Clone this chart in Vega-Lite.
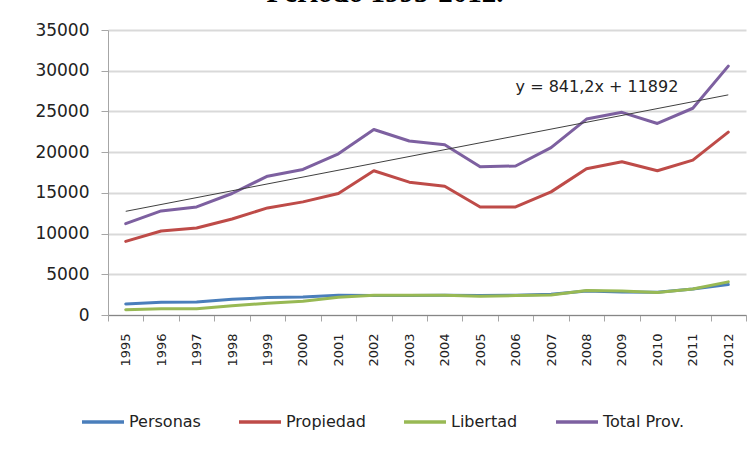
{
  "$schema": "https://vega.github.io/schema/vega-lite/v6.json",
  "width": 638,
  "height": 285,
  "autosize": {"type": "none"},
  "padding": {"left": 108, "top": 30, "right": 9, "bottom": 135},
  "background": "white",
  "title": {
    "text": "Período 1995-2012.",
    "font": "Liberation Serif",
    "fontSize": 29,
    "fontWeight": "bold",
    "color": "#000000",
    "anchor": "middle",
    "frame": "group",
    "dx": -42,
    "dy": 14,
    "offset": 4,
    "baseline": "alphabetic"
  },
  "config": {
    "view": {"stroke": null},
    "axis": {"labelFont": "DejaVu Sans", "labelColor": "#222222"}
  },
  "datasets": {
    "series": [
      {"year": "1995", "serie": "Personas", "value": 1356},
      {"year": "1996", "serie": "Personas", "value": 1560},
      {"year": "1997", "serie": "Personas", "value": 1600},
      {"year": "1998", "serie": "Personas", "value": 1930},
      {"year": "1999", "serie": "Personas", "value": 2140},
      {"year": "2000", "serie": "Personas", "value": 2220},
      {"year": "2001", "serie": "Personas", "value": 2420},
      {"year": "2002", "serie": "Personas", "value": 2380},
      {"year": "2003", "serie": "Personas", "value": 2380},
      {"year": "2004", "serie": "Personas", "value": 2420},
      {"year": "2005", "serie": "Personas", "value": 2380},
      {"year": "2006", "serie": "Personas", "value": 2420},
      {"year": "2007", "serie": "Personas", "value": 2550},
      {"year": "2008", "serie": "Personas", "value": 2960},
      {"year": "2009", "serie": "Personas", "value": 2830},
      {"year": "2010", "serie": "Personas", "value": 2790},
      {"year": "2011", "serie": "Personas", "value": 3200},
      {"year": "2012", "serie": "Personas", "value": 3740},
      {"year": "1995", "serie": "Propiedad", "value": 9040},
      {"year": "1996", "serie": "Propiedad", "value": 10310},
      {"year": "1997", "serie": "Propiedad", "value": 10680},
      {"year": "1998", "serie": "Propiedad", "value": 11790},
      {"year": "1999", "serie": "Propiedad", "value": 13150},
      {"year": "2000", "serie": "Propiedad", "value": 13890},
      {"year": "2001", "serie": "Propiedad", "value": 14920},
      {"year": "2002", "serie": "Propiedad", "value": 17710},
      {"year": "2003", "serie": "Propiedad", "value": 16310},
      {"year": "2004", "serie": "Propiedad", "value": 15820},
      {"year": "2005", "serie": "Propiedad", "value": 13270},
      {"year": "2006", "serie": "Propiedad", "value": 13270},
      {"year": "2007", "serie": "Propiedad", "value": 15120},
      {"year": "2008", "serie": "Propiedad", "value": 17950},
      {"year": "2009", "serie": "Propiedad", "value": 18820},
      {"year": "2010", "serie": "Propiedad", "value": 17710},
      {"year": "2011", "serie": "Propiedad", "value": 19020},
      {"year": "2012", "serie": "Propiedad", "value": 22450},
      {"year": "1995", "serie": "Libertad", "value": 657},
      {"year": "1996", "serie": "Libertad", "value": 780},
      {"year": "1997", "serie": "Libertad", "value": 780},
      {"year": "1998", "serie": "Libertad", "value": 1150},
      {"year": "1999", "serie": "Libertad", "value": 1440},
      {"year": "2000", "serie": "Libertad", "value": 1680},
      {"year": "2001", "serie": "Libertad", "value": 2180},
      {"year": "2002", "serie": "Libertad", "value": 2420},
      {"year": "2003", "serie": "Libertad", "value": 2420},
      {"year": "2004", "serie": "Libertad", "value": 2420},
      {"year": "2005", "serie": "Libertad", "value": 2300},
      {"year": "2006", "serie": "Libertad", "value": 2380},
      {"year": "2007", "serie": "Libertad", "value": 2470},
      {"year": "2008", "serie": "Libertad", "value": 3000},
      {"year": "2009", "serie": "Libertad", "value": 2960},
      {"year": "2010", "serie": "Libertad", "value": 2750},
      {"year": "2011", "serie": "Libertad", "value": 3200},
      {"year": "2012", "serie": "Libertad", "value": 4070},
      {"year": "1995", "serie": "Total Prov.", "value": 11220},
      {"year": "1996", "serie": "Total Prov.", "value": 12780},
      {"year": "1997", "serie": "Total Prov.", "value": 13270},
      {"year": "1998", "serie": "Total Prov.", "value": 14920},
      {"year": "1999", "serie": "Total Prov.", "value": 17050},
      {"year": "2000", "serie": "Total Prov.", "value": 17870},
      {"year": "2001", "serie": "Total Prov.", "value": 19800},
      {"year": "2002", "serie": "Total Prov.", "value": 22780},
      {"year": "2003", "serie": "Total Prov.", "value": 21370},
      {"year": "2004", "serie": "Total Prov.", "value": 20910},
      {"year": "2005", "serie": "Total Prov.", "value": 18200},
      {"year": "2006", "serie": "Total Prov.", "value": 18300},
      {"year": "2007", "serie": "Total Prov.", "value": 20550},
      {"year": "2008", "serie": "Total Prov.", "value": 24060},
      {"year": "2009", "serie": "Total Prov.", "value": 24890},
      {"year": "2010", "serie": "Total Prov.", "value": 23520},
      {"year": "2011", "serie": "Total Prov.", "value": 25390},
      {"year": "2012", "serie": "Total Prov.", "value": 30560}
    ],
    "trend": [
      {"year": "1995", "trend": 12733},
      {"year": "2012", "trend": 27034}
    ],
    "label": [
      {"year": "2006", "value": 28000, "text": "y = 841,2x + 11892"}
    ]
  },
  "layer": [
    {
      "data": {"name": "series"},
      "mark": {"type": "line", "strokeWidth": 3, "strokeJoin": "round", "strokeCap": "round"},
      "encoding": {
        "x": {
          "field": "year",
          "type": "ordinal",
          "bandPosition": 0.5,
          "scale": {"type": "band", "paddingInner": 0, "paddingOuter": 0},
          "axis": {
            "title": null,
            "labelAngle": 270,
            "labelAlign": "right",
            "labelBaseline": "middle",
            "labelFontSize": 13,
            "labelPadding": 12,
            "tickBand": "extent",
            "tickSize": 6,
            "tickColor": "#a6a6a6",
            "domainColor": "#868686",
            "domainWidth": 1,
            "grid": false
          }
        },
        "y": {
          "field": "value",
          "type": "quantitative",
          "scale": {"domain": [0, 35000], "nice": false},
          "axis": {
            "title": null,
            "values": [0, 5000, 10000, 15000, 20000, 25000, 30000, 35000],
            "format": "d",
            "labelFontSize": 17,
            "labelPadding": 12,
            "tickSize": 7,
            "tickColor": "#a6a6a6",
            "domainColor": "#a6a6a6",
            "gridColor": "#d9d9d9",
            "gridWidth": 2
          }
        },
        "color": {
          "field": "serie",
          "type": "nominal",
          "sort": ["Personas", "Propiedad", "Libertad", "Total Prov."],
          "scale": {
            "domain": ["Personas", "Propiedad", "Libertad", "Total Prov."],
            "range": ["#4a7ebb", "#be4b48", "#98b954", "#7d60a0"]
          },
          "legend": {
            "title": null,
            "orient": "none",
            "direction": "horizontal",
            "legendX": -28,
            "legendY": 369,
            "symbolType": "stroke",
            "symbolSize": 1764,
            "symbolStrokeWidth": 3.5,
            "labelFont": "DejaVu Sans",
            "labelFontSize": 16,
            "labelColor": "#222222",
            "labelOffset": 3,
            "columnPadding": 31,
            "padding": 0
          }
        }
      }
    },
    {
      "data": {"name": "trend"},
      "mark": {"type": "line", "color": "#404040", "strokeWidth": 1},
      "encoding": {
        "x": {"field": "year", "type": "ordinal", "bandPosition": 0.5},
        "y": {"field": "trend", "type": "quantitative"}
      }
    },
    {
      "data": {"name": "label"},
      "mark": {"type": "text", "align": "left", "baseline": "middle", "font": "DejaVu Sans", "fontSize": 16, "color": "#222222"},
      "encoding": {
        "x": {"field": "year", "type": "ordinal", "bandPosition": 0.5},
        "y": {"field": "value", "type": "quantitative"},
        "text": {"field": "text"}
      }
    }
  ]
}
